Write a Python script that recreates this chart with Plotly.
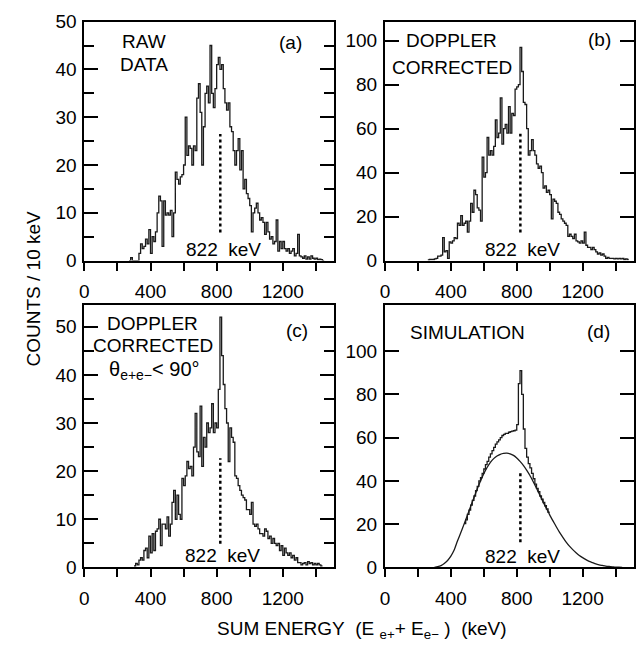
import plotly.graph_objects as go

FONT = "Liberation Sans, Arial, sans-serif"
W, H = 636, 649
BIN = 10  # keV per channel

# (a) raw data: counts per 10 keV channel, first channel starts at RAW_START keV
RAW_START = 270
raw_counts = [
    0, 0.6, 0, 0, 0, 0, 1.5, 3.5, 2.5, 3.0,          # 270-360
    4.5, 3.5, 6.5, 1.5, 5, 4, 6, 10, 13.5, 12.5,      # 370-460
    3, 12.5, 9.5, 10, 9.5, 10.5, 5, 10, 18.5, 17,     # 470-560
    16, 17.5, 18, 20, 30, 22, 24, 23.5, 20, 24,       # 570-660
    23, 34, 37, 31, 20, 28, 35, 36.5, 33, 45,         # 670-760
    35, 32, 36, 41, 42.5, 40, 41, 36, 33, 31.5,       # 770-860
    33, 28, 27, 23, 20, 23, 25.5, 19, 23, 15,         # 870-960
    17, 14, 13, 11.5, 6, 10, 11, 12, 10, 8.5,         # 970-1060
    9, 8, 5.5, 8, 6, 4.5, 5, 3.5, 4, 8.5,             # 1070-1160
    2, 4, 2.5, 4, 2.5, 2, 2.5, 1.5, 2, 2.5,           # 1170-1260
    1, 1.5, 5.5, 1, 0.8, 0.5, 1, 0.3, 0.8, 0.3,       # 1270-1360
    1, 0.5, 0.3, 0.5, 0.2, 0.3, 0.2, 0,               # 1370-1440
]

# (b) Doppler corrected
DOP_START = 260
dop_counts = [
    0.3, 0.5, 0.5, 0.5, 0.8, 1, 2, 2, 2.5, 10.5,      # 260-350
    4, 4.5, 1, 8.5, 8, 9, 10.5, 10, 17, 16,           # 360-450
    20.5, 16, 17, 18, 13, 18, 26, 22, 32, 30,         # 460-550
    24, 23, 18, 47, 38, 40, 56, 48, 50, 48,           # 560-650
    52, 64, 56, 58, 74, 53, 60, 62, 58, 70,           # 660-750
    58, 67, 66, 78, 79, 80, 97, 86, 72, 71,           # 760-850
    60, 48, 50, 55, 50, 48, 44, 42, 43, 40,           # 860-950
    33, 34, 31, 32, 30, 19, 28, 27, 26, 22,           # 960-1050
    21, 19, 18, 17, 16, 11, 12, 11, 10, 12,           # 1060-1150
    9, 8.5, 8, 9, 8, 13, 7, 6, 6, 5,                  # 1160-1250
    6, 5, 4, 3, 3.5, 2.5, 3, 2, 1, 1.5,               # 1260-1350
    1, 1, 1, 0.8, 1, 0.8, 1, 0.8, 1, 0.5,             # 1360-1450
    0.8, 0.5,                                         # 1460-1470
]

# (c) Doppler corrected, opening angle below 90 degrees
ANG_START = 300
ang_counts = [
    0.3, 0.8, 0.5, 1.5, 2, 1.5, 3.5, 4, 2, 6.5,       # 300-390
    3, 7, 3.5, 7.5, 8, 10, 4.5, 9, 9, 8,              # 400-490
    10.5, 6.5, 9, 13.5, 16, 10, 15, 11, 10, 18.5,     # 500-590
    17, 19, 22, 20.5, 21, 19, 25, 32, 24, 23,         # 600-690
    33.5, 21, 27, 25, 30, 28, 29, 34, 28, 30,         # 700-790
    29, 37, 52, 44, 38, 33, 30, 22, 29, 27,           # 800-890
    26, 19, 18.5, 17, 16, 15, 14.5, 14, 12, 12,       # 900-990
    11, 13.5, 9, 8.5, 9, 8, 7, 7, 6.5, 8,             # 1000-1090
    7.5, 6, 6.5, 5, 6, 5, 4.5, 5, 3.5, 4.5,           # 1100-1190
    2.5, 4, 3, 2.5, 3, 2, 2.5, 1.5, 2, 1,             # 1200-1290
    1, 0.5, 0.8, 1, 0.5, 1.2, 0.8, 1, 0.5, 0.8,       # 1300-1390
    0.5, 0.8, 0.5, 0.3,                               # 1400-1430
]

# (d) simulation: smooth continuum (no 822 keV line)
sim_energy = [
    300, 320, 340, 360, 380, 400, 420, 440, 460, 480, 500, 520, 540, 560,
    580, 600, 620, 640, 660, 680, 700, 720, 740, 760, 780, 800, 820, 840,
    860, 880, 900, 920, 940, 960, 980, 1000, 1020, 1040, 1060, 1080, 1100,
    1120, 1140, 1160, 1180, 1200, 1220, 1240, 1260, 1280, 1300, 1320, 1340,
    1360, 1380, 1400, 1420, 1440,
]
sim_continuum = [
    0, 0.3, 0.8, 1.8, 3.2, 5.2, 8, 12.2, 16, 20, 24, 28.2, 32.2, 36.3,
    40, 43.3, 46.2, 48.6, 50.3, 51.5, 52.3, 52.7, 52.8, 52.5, 51.8, 50.6, 49, 47.2,
    45, 42.5, 39.6, 36.6, 33.5, 30.3, 27.3, 24.3, 21.5, 18.8, 16.2, 13.9, 11.7,
    9.8, 8.2, 6.8, 5.5, 4.5, 3.6, 2.8, 2.2, 1.6, 1.2, 0.9, 0.6,
    0.4, 0.25, 0.1, 0.05, 0,
]

# (d) simulation including the 822 keV transition, 10 keV channels
LINE_START = 480
sim_with_line = [
    20.3, 22, 24.5, 26.5, 28.8, 31, 33, 35.5, 37.5, 40,      # 480-570
    41.5, 43.5, 45.5, 47.5, 49, 51, 52.5, 54, 55.5, 57,      # 580-670
    58, 59, 60, 61, 61.5, 62, 62, 62.5, 62.8, 63,            # 680-770
    63.2, 63.5, 66, 85, 91, 80, 64, 55, 51, 48,              # 780-870
    46, 43.5, 41, 38.5, 36.5, 35, 33, 31.5, 30, 28.5,        # 880-970
    27, 25.5,                                                # 980-990
]

LINE_ENERGY = 822  # keV
# vertical extent (counts) of the dotted marker in each panel
marker_span = {"a": (5.9, 26.5), "b": (12.8, 57.7), "c": (4.9, 22.7), "d": (11.6, 44.4)}

y_ranges = {"a": [0, 50], "b": [0, 108.7], "c": [0, 54.5], "d": [0, 121.3]}
y_major = {"a": list(range(0, 51, 10)), "b": list(range(0, 101, 20)),
           "c": list(range(0, 51, 10)), "d": list(range(0, 101, 20))}
X_RANGE = [0, 1512]
x_ticks = list(range(0, 1401, 200))
x_ticktext = [str(v) if v % 400 == 0 else "" for v in x_ticks]


def step_xy(start, counts):
    xs = [start + i * BIN for i in range(len(counts))] + [start + len(counts) * BIN]
    ys = list(counts) + [counts[-1]]
    return xs, ys


HIST_LINE = dict(color="#1a1a1a", width=1.3, shape="hv")

fig = go.Figure()
for key, (start, counts) in zip(
    ["a", "b", "c"],
    [(RAW_START, raw_counts), (DOP_START, dop_counts), (ANG_START, ang_counts)],
):
    ax = {"a": "", "b": "2", "c": "3"}[key]
    xs, ys = step_xy(start, counts)
    fig.add_trace(go.Scatter(x=xs, y=ys, mode="lines", line=HIST_LINE,
                             xaxis="x" + ax, yaxis="y" + ax, showlegend=False,
                             hoverinfo="skip"))

fig.add_trace(go.Scatter(x=sim_energy, y=sim_continuum, mode="lines",
                         line=dict(color="#1a1a1a", width=1.3, shape="spline", smoothing=0.6),
                         xaxis="x4", yaxis="y4", showlegend=False, hoverinfo="skip"))
xs, ys = step_xy(LINE_START, sim_with_line)
fig.add_trace(go.Scatter(x=xs, y=ys, mode="lines", line=HIST_LINE,
                         xaxis="x4", yaxis="y4", showlegend=False, hoverinfo="skip"))

# panel boxes in pixels: left, right, top, bottom
boxes = {
    "a": (80, 332, 12, 259),
    "b": (383, 634, 12, 259),
    "c": (80, 332, 305, 576),
    "d": (383, 634, 305, 576),
}

tickfont = dict(family=FONT, size=19, color="black")
layout_axes = {}
for i, key in enumerate(["a", "b", "c", "d"]):
    l, r, t, b = boxes[key]
    suffix = "" if i == 0 else str(i + 1)
    xa = dict(domain=[l / W, r / W], range=X_RANGE, anchor="y" + suffix,
              tickmode="array", tickvals=x_ticks, ticktext=x_ticktext,
              ticks="outside", ticklen=8, tickwidth=2, tickcolor="black",
              ticklabelstandoff=5,
              showline=True, linewidth=2, linecolor="black", mirror=True,
              showgrid=False, zeroline=False, tickfont=tickfont, fixedrange=True)
    ya = dict(domain=[1 - b / H, 1 - t / H], range=y_ranges[key], anchor="x" + suffix,
              tickmode="array", tickvals=y_major[key],
              ticks="inside", ticklen=14, tickwidth=2, tickcolor="black",
              ticklabelstandoff=2,
              showline=True, linewidth=2, linecolor="black", mirror="ticks",
              showgrid=False, zeroline=False, tickfont=tickfont, fixedrange=True)
    if key in ("a", "c"):
        ya["minor"] = dict(tickmode="array", tickvals=list(range(5, 51, 10)),
                           ticks="inside", ticklen=10, tickwidth=2,
                           tickcolor="black", showgrid=False)
    layout_axes["xaxis" + suffix] = xa
    layout_axes["yaxis" + suffix] = ya

shapes = []
for i, key in enumerate(["a", "b", "c", "d"]):
    suffix = "" if i == 0 else str(i + 1)
    lo, hi = marker_span[key]
    shapes.append(dict(type="line", xref="x" + suffix, yref="y" + suffix,
                       x0=LINE_ENERGY, x1=LINE_ENERGY, y0=lo, y1=hi,
                       line=dict(color="black", width=2.5, dash="dot")))

annotations = []


def text_at(text, px, py, size=19, angle=0, xanchor="center"):
    annotations.append(dict(text=text, x=px / W, y=1 - py / H, xref="paper", yref="paper",
                            xanchor=xanchor, yanchor="middle", showarrow=False,
                            textangle=angle, font=dict(family=FONT, size=size, color="black")))


# panel captions
text_at("RAW", 140, 33)
text_at("DATA", 140, 56)
text_at("(a)", 288, 34)
text_at("DOPPLER", 450, 32)
text_at("CORRECTED", 451, 59)
text_at("(b)", 599, 31)
text_at("DOPPLER", 149, 324)
text_at("CORRECTED", 149, 347)
text_at("θ<sub>e+e−</sub>< 90°", 151, 373, size=20)
text_at("(c)", 294, 331)
text_at("SIMULATION", 466, 333)
text_at("(d)", 598, 332)
for px, py in [(220, 247), (522, 247), (219, 564), (522, 565)]:
    text_at("822\u00a0 keV", px, py)

# axis titles
text_at("COUNTS / 10 keV", 29, 288, angle=-90)
text_at("SUM ENERGY\u00a0 (E <sub>e+</sub>+ E<sub>e−</sub> )\u00a0 (keV)", 360, 641)

fig.update_layout(
    width=W, height=H, margin=dict(l=0, r=0, t=0, b=0),
    paper_bgcolor="white", plot_bgcolor="white",
    shapes=shapes, annotations=annotations, showlegend=False,
    **layout_axes,
)

fig.write_html("out.html")
